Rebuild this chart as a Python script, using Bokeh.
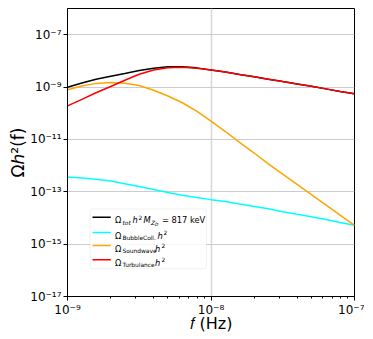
import numpy as np
from bokeh.plotting import figure
from bokeh.models import FixedTicker, CustomJSTickFormatter, BoxAnnotation, Label, Arrow
from bokeh.embed import file_html
from bokeh.resources import INLINE

# ---- data ----
freq = [1.00e-9, 1.26e-9, 1.58e-9, 2.00e-9, 2.51e-9, 3.16e-9, 3.98e-9, 5.01e-9, 6.31e-9, 7.94e-9,
        1.00e-8, 1.26e-8, 1.58e-8, 2.00e-8, 2.51e-8, 3.16e-8, 3.98e-8, 5.01e-8, 6.31e-8, 7.94e-8, 1.00e-7]
omega_tot = [9.8e-10, 1.42e-9, 2.0e-9, 2.6e-9, 3.3e-9, 4.25e-9, 5.2e-9, 5.9e-9, 6.0e-9, 5.4e-9,
             4.52e-9, 3.74e-9, 3.03e-9, 2.45e-9, 2.00e-9, 1.62e-9, 1.32e-9, 1.07e-9, 8.51e-10, 6.76e-10, 5.50e-10]
omega_bubble = [3.63e-13, 3.39e-13, 3.02e-13, 2.57e-13, 2.04e-13, 1.58e-13, 1.23e-13, 9.33e-14, 7.41e-14, 6.03e-14,
                5.01e-14, 4.27e-14, 3.39e-14, 2.75e-14, 2.24e-14, 1.74e-14, 1.38e-14, 1.12e-14, 8.71e-15, 6.76e-15, 5.25e-15]
omega_sound = [7.94e-10, 1.10e-9, 1.38e-9, 1.48e-9, 1.41e-9, 1.148e-9, 7.59e-10, 4.57e-10, 2.51e-10, 1.20e-10,
               5.01e-11, 2.00e-11, 7.76e-12, 3.02e-12, 1.17e-12, 4.68e-13, 1.91e-13, 7.76e-14, 3.16e-14, 1.29e-14, 5.25e-15]
omega_turb = [1.90e-10, 3.39e-10, 6.03e-10, 1.05e-9, 1.82e-9, 3.09e-9, 4.47e-9, 5.50e-9, 5.75e-9, 5.25e-9,
              4.47e-9, 3.72e-9, 3.02e-9, 2.45e-9, 2.00e-9, 1.62e-9, 1.32e-9, 1.07e-9, 8.51e-10, 6.76e-10, 5.50e-10]

x_ticks = [1e-9, 1e-8, 1e-7]
y_ticks = [1e-17, 1e-15, 1e-13, 1e-11, 1e-9, 1e-7]
x_range = (1e-9, 1e-7)
y_range = (1e-17, 1e-6)

FONT = "DejaVu Sans"
FW, FH = 287, 288

p = figure(x_axis_type="log", y_axis_type="log", x_range=x_range, y_range=y_range,
           frame_width=FW, frame_height=FH,
           min_border_left=67, min_border_right=10, min_border_top=8, min_border_bottom=30,
           output_backend="svg", toolbar_location=None)
p.background_fill_color = "white"
p.border_fill_color = "white"
p.outline_line_color = "black"
p.outline_line_width = 1
p.outline_line_alpha = 1

minor_x = [m * 10.0 ** e for e in (-9, -8) for m in range(2, 10)]
p.xaxis.ticker = FixedTicker(ticks=x_ticks, minor_ticks=minor_x)
p.yaxis.ticker = FixedTicker(ticks=y_ticks, minor_ticks=[])

fmt_code = """
const e = Math.round(Math.log10(tick));
const sup = {'-':'\u207b','0':'\u2070','1':'\u00b9','2':'\u00b2','3':'\u00b3','4':'\u2074','5':'\u2075','6':'\u2076','7':'\u2077','8':'\u2078','9':'\u2079'};
return '10' + String(e).split('').map(c => sup[c]).join('');
"""
for ax in (p.xaxis, p.yaxis):
    ax.formatter = CustomJSTickFormatter(code=fmt_code)
    ax.major_label_text_font = FONT
    ax.major_label_text_font_size = "12px"
    ax.major_label_text_color = "black"
    ax.axis_line_color = "black"
    ax.major_tick_in = 0
    ax.major_tick_out = 4
    ax.minor_tick_in = 0
    ax.minor_tick_out = 2
    ax.major_tick_line_color = "black"
    ax.minor_tick_line_color = "black"
    ax.major_label_standoff = 2
    ax.axis_label_text_font = FONT
    ax.axis_label_text_font_style = "normal"
    ax.axis_label_text_color = "black"

p.xaxis.axis_label = "\U0001D453 (Hz)"
p.xaxis.axis_label_text_font_size = "16px"
p.xaxis.axis_label_standoff = -6
p.yaxis.axis_label = "\u03a9\u210e\u00b2(f)"
p.yaxis.axis_label_text_font_size = "17px"
p.yaxis.axis_label_standoff = -1

p.xgrid.grid_line_color = "#d9d9d9"
p.xgrid.grid_line_width = 1.6
p.ygrid.grid_line_color = "#cccccc"
p.ygrid.grid_line_width = 1

p.line(freq, omega_tot, line_color="black", line_width=1.5)
p.line(freq, omega_bubble, line_color="#00ffff", line_width=1.5)
p.line(freq, omega_sound, line_color="#ffa500", line_width=1.5)
p.line(freq, omega_turb, line_color="#ff0000", line_width=1.5)

# ---- manual legend (positions in frame pixels) ----
lx0, lx1 = np.log10(x_range)
ly0, ly1 = np.log10(y_range)
def X(px):
    return 10 ** (lx0 + (lx1 - lx0) * px / FW)
def Y(py):
    return 10 ** (ly0 + (ly1 - ly0) * py / FH)

p.add_layout(BoxAnnotation(left=X(22.6), right=X(139), bottom=Y(27.7), top=Y(87.5),
                           fill_color="white", fill_alpha=0.85, line_color="#cfcfcf",
                           line_width=1, border_radius=3))

colors = ["black", "#00ffff", "#ffa500", "#ff0000"]
rows_y = [79.3, 64.0, 51.0, 36.7]
S, SS, SSS = 8.3, 5.9, 4.4
rows = [
    [("\u03a9", 0, 0, S, "normal"), ("tot", 7.4, -2.3, SS, "italic"), ("h", 17.4, 0, S, "italic"),
     ("2", 23.4, 3.2, SS, "normal"), ("M", 28.4, 0, S, "italic"), ("Z", 36.0, -2.3, SS, "italic"),
     ("D", 40.0, -3.8, SSS, "italic"), ("= 817 keV", 46.8, 0, S, "normal")],
    [("\u03a9", 0, 0, S, "normal"), ("BubbleColl.", 7.4, -2.3, SS, "normal"), ("h", 42.4, 0, S, "italic"),
     ("2", 48.3, 3.2, SS, "normal")],
    [("\u03a9", 0, 0, S, "normal"), ("Soundwave", 7.4, -2.3, SS, "normal"), ("h", 40.0, 0, S, "italic"),
     ("2", 46.3, 3.2, SS, "normal")],
    [("\u03a9", 0, 0, S, "normal"), ("Turbulance", 7.4, -2.3, SS, "normal"), ("h", 40.0, 0, S, "italic"),
     ("2", 46.3, 3.2, SS, "normal")],
]
for col, ry, pieces in zip(colors, rows_y, rows):
    p.add_layout(Arrow(end=None, x_start=X(25.0), x_end=X(43.3), y_start=Y(ry), y_end=Y(ry),
                       line_color=col, line_width=1.5))
    for txt, dx, dy, sz, st in pieces:
        p.add_layout(Label(x=X(47.6), y=Y(ry), x_offset=dx, y_offset=-3 + dy, text=txt,
                           text_font=FONT, text_font_size=f"{sz}px", text_font_style=st,
                           text_baseline="alphabetic", text_align="left", text_color="black"))

open("out.html", "w").write(file_html(p, INLINE))
